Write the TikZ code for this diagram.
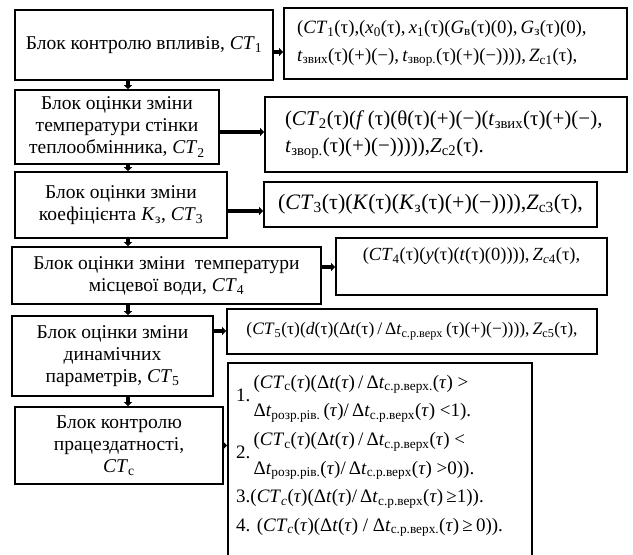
\documentclass[tikz,border=0pt]{standalone}
\usepackage{fontspec}
\setmainfont{Liberation Serif}
\usetikzlibrary{positioning,arrows.meta,calc}

\newcommand\sbs[1]{\textsubscript{#1}}
\newcommand\CT[1]{\textit{CT}\sbs{#1}}

\begin{document}
\begin{tikzpicture}[
    x=1pt, y=-1pt,
    >={Triangle[length=4pt,width=8pt]},
    blok/.style={draw, line width=1.7pt, align=center, inner sep=1pt, font=\fontsize{19.5}{22}\selectfont},
    formula/.style={draw, line width=1.7pt, inner sep=0pt},
    flow/.style={->, line width=3.2pt},
  ]
  \useasboundingbox (0,0) rectangle (633,555);
  \clip (0,0) rectangle (633,555);

  % blocks of the model
  \node[blok, minimum width=258pt, minimum height=70pt] (ct1) at (144,45) {Блок контролю впливів, \CT{1}};
  \node[blok, minimum width=204pt, minimum height=74pt] (ct2) at (117,127) {Блок оцінки зміни\\температури стінки\\теплообмінника, \CT{2}};
  \node[blok, minimum width=212pt, minimum height=66pt] (ct3) at (121,205) {Блок оцінки зміни\\коефіцієнта \textit{K}\sbs{з}, \CT{3}};
  \node[blok, minimum width=309pt, minimum height=57pt] (ct4) at (166.5,275.5) {Блок оцінки зміни\ \ температури\\місцевої води, \CT{4}};
  \node[blok, minimum width=201pt, minimum height=80pt] (ct5) at (112.5,356) {Блок оцінки зміни\\динамічних\\параметрів, \CT{5}};
  \node[blok, minimum width=208pt, minimum height=77pt] (cts) at (119,445.5) {Блок контролю\\працездатності,\\\CT{с}};

  % formulas
  \node[formula, minimum width=343pt, minimum height=71pt, text width=317pt, align=left, font=\fontsize{18.8}{28}\selectfont] (f1) at (455.5,43.5)
    {(\CT{1}(τ),(\textit{x}\sbs{0}(τ),\,\textit{x}\sbs{1}(τ)(\textit{G}\sbs{в}(τ)(0),\,\textit{G}\sbs{з}(τ)(0),\\
     \textit{t}\sbs{звих}(τ)(+)(−),\,\textit{t}\sbs{звор.}(τ)(+)(−)))),\,\textit{Z}\sbs{c1}(τ),};
  \node[formula, minimum width=362pt, minimum height=75pt, text width=322pt, align=left, font=\fontsize{21}{27}\selectfont] (f2) at (446,134.5)
    {(\CT{2}(τ)(\textit{f}\,(τ)(θ(τ)(+)(−)(\textit{t}\sbs{звих}(τ)(+)(−),\\
     \textit{t}\sbs{звор.}(τ)(+)(−))))),\textit{Z}\sbs{c2}(τ).};
  \node[formula, minimum width=333pt, minimum height=45pt, align=center, font=\fontsize{22}{24}\selectfont] (f3) at (430.5,204.5)
    {(\CT{3}(τ)(\textit{K}(τ)(\textit{K}\sbs{з}(τ)(+)(−)))),\textit{Z}\sbs{c3}(τ),};
  \node[formula, minimum width=271pt, minimum height=57pt, align=center, font=\fontsize{18.5}{24}\selectfont] (f4) at (471.5,266.5)
    {(\CT{4}(τ)(\textit{y}(τ)(\textit{t}(τ)(0)))),\,\textit{Z}\sbs{\textit{c}4}(τ),\\ \mbox{}};
  \node[formula, minimum width=370pt, minimum height=45pt, align=center, font=\fontsize{17.5}{20}\selectfont] (f5) at (412,331.5)
    {(\CT{5}(τ)(\textit{d}(τ)(Δ\textit{t}(τ)\,/\,Δ\textit{t}\sbs{с.р.верх}\,(τ)(+)(−)))),\,\textit{Z}\sbs{c5}(τ),};
  \node[formula, anchor=north west, minimum width=304pt, minimum height=215pt] (fs) at (227,362) {};
  \node[anchor=north west, inner sep=0pt, font=\fontsize{19}{22}\selectfont] (fstext) at ([xshift=9pt,yshift=-6pt]fs.north west)
    {\renewcommand\arraystretch{1.3}%
     \begin{tabular}{@{}l@{\,}l@{}}
       1.&\begin{tabular}[c]{@{}l@{}}(\CT{с}(\textit{τ})(Δ\textit{t}(\textit{τ})\,/\,Δ\textit{t}\sbs{с.р.верх.}(\textit{τ}) >\\
            Δ\textit{t}\sbs{розр.рів.}\,(\textit{τ})/\,Δ\textit{t}\sbs{с.р.верх}(\textit{τ}) <1).\end{tabular}\\
       2.&\begin{tabular}[c]{@{}l@{}}(\CT{с}(\textit{τ})(Δ\textit{t}(\textit{τ})\,/\,Δ\textit{t}\sbs{с.р.верх}(\textit{τ}) <\\
            Δ\textit{t}\sbs{розр.рів.}(\textit{τ})/\,Δ\textit{t}\sbs{с.р.верх}(\textit{τ}) >0)).\end{tabular}\\
       \multicolumn{2}{@{}l@{}}{3.(\CT{\textit{c}}(\textit{τ})(Δ\textit{t}(\textit{τ})/\,Δ\textit{t}\sbs{с.р.верх}(\textit{τ})\,≥1)).}\\
       \multicolumn{2}{@{}l@{}}{4. (\CT{\textit{c}}(\textit{τ})(Δ\textit{t}(\textit{τ}) / Δ\textit{t}\sbs{с.р.верх.}(\textit{τ})\,≥\,0)).}
     \end{tabular}};

  % flow down the blocks
  \coordinate (spine) at (128,0);
  \draw[flow] (ct1.south -| spine) -- (ct2.north -| spine);
  \draw[flow] (ct2.south -| spine) -- (ct3.north -| spine);
  \draw[flow] (ct3.south -| spine) -- (ct4.north -| spine);
  \draw[flow] (ct4.south -| spine) -- (ct5.north -| spine);
  \draw[flow] (ct5.south -| spine) -- (cts.north -| spine);

  % blocks to formulas
  \draw[flow] ([yshift=-7pt]ct1.east) coordinate (a1) -- (a1 -| f1.west);
  \draw[flow] ([yshift=-5pt]ct2.east) coordinate (a2) -- (a2 -| f2.west);
  \draw[flow] ([yshift=-6pt]ct3.east) coordinate (a3) -- (a3 -| f3.west);
  \draw[flow] ([yshift=8.5pt]ct4.east) coordinate (a4) -- (a4 -| f4.west);
  \draw[flow] ([yshift=25pt]ct5.east) coordinate (a5) -- (a5 -| f5.west);
  \draw[flow] (cts.east) coordinate (a6) -- (a6 -| fs.west);
\end{tikzpicture}
\end{document}
